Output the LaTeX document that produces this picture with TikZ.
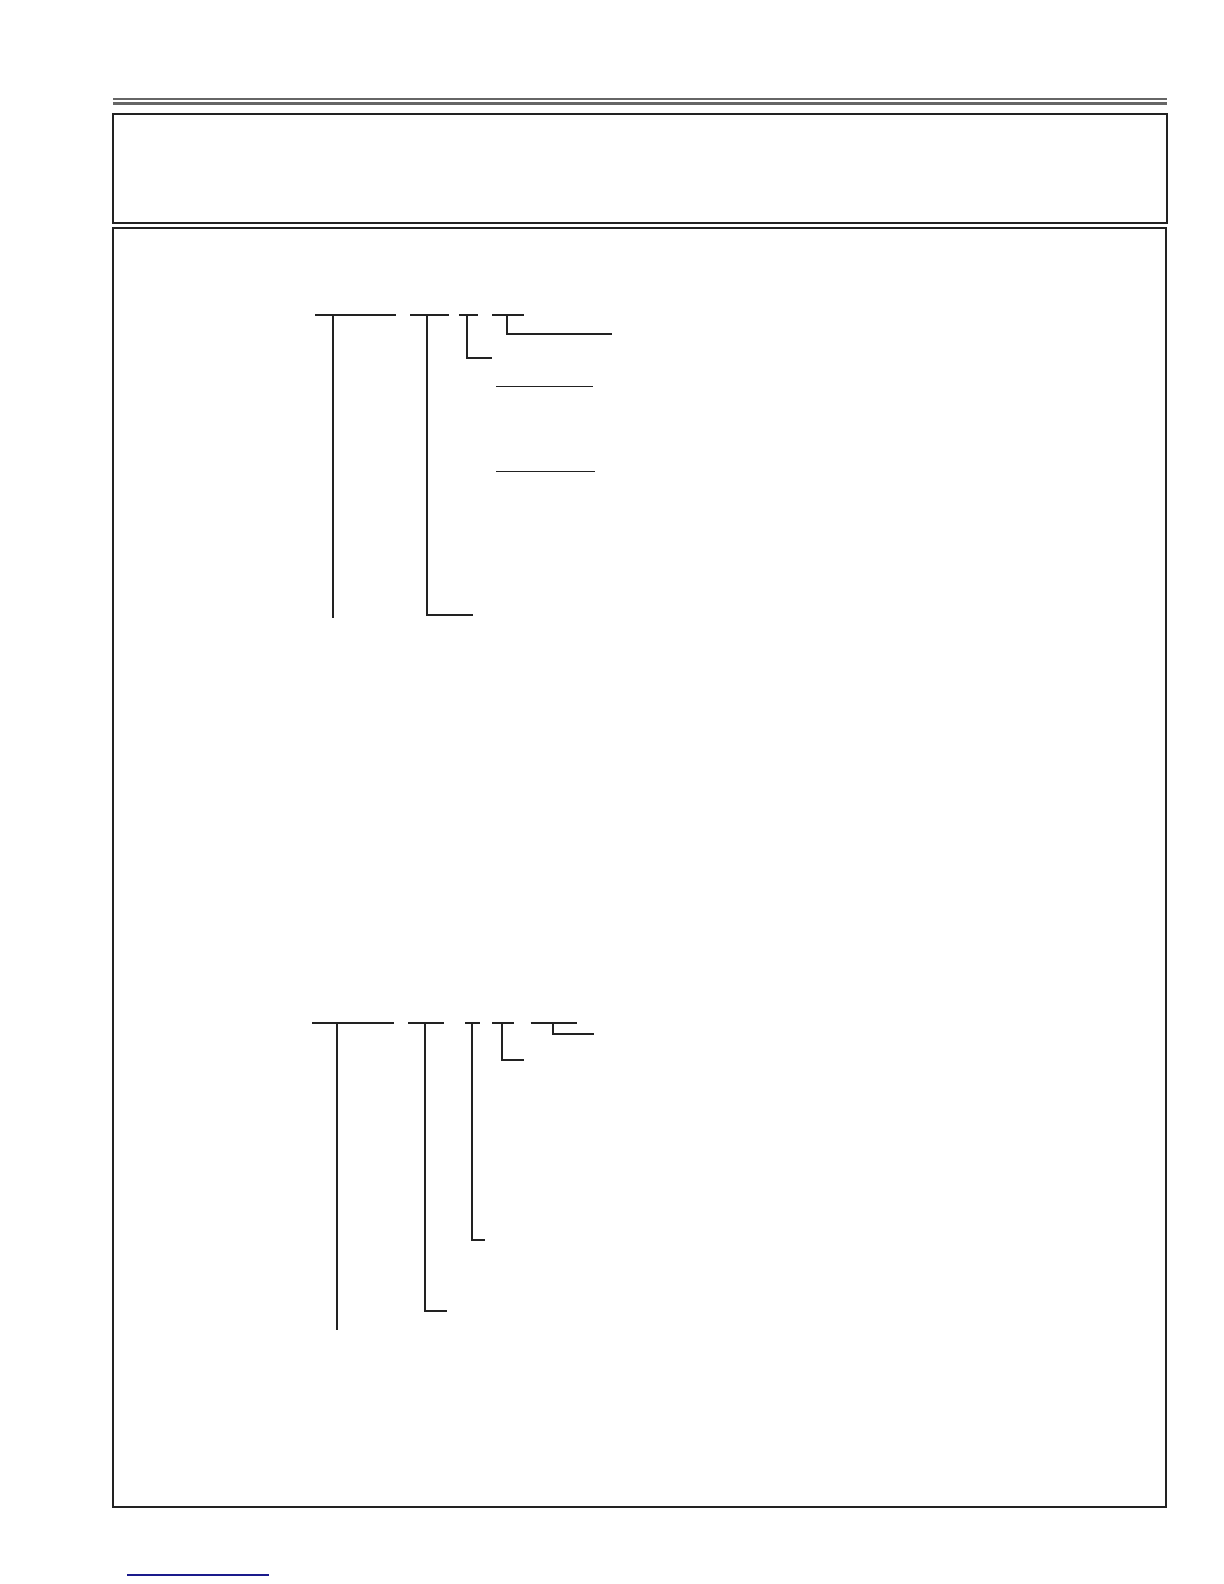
\documentclass[tikz,border=0pt]{standalone}
\usepackage{tikz}
\definecolor{RuleGray}{HTML}{666666}
\definecolor{InkDark}{HTML}{222222}
\definecolor{LinkBlue}{HTML}{1A1A8C}
\tikzset{
    frame/.style = {draw=InkDark, line width=1pt},
    bracket/.style = {draw=InkDark, line width=1pt},
    blank/.style = {draw=InkDark, line width=0.65pt}
}
\begin{document}
\begin{tikzpicture}[x=0.5pt,y=-0.5pt]
            \useasboundingbox[fill=white] (0,0) rectangle (1224,1584);
            % page rules and frames
            \draw[RuleGray,line width=0.6pt] (113,99) -- (1167,99);
            \draw[RuleGray,line width=1.6pt] (113,103.3) -- (1167,103.3);
            \draw[frame] (113,114) rectangle (1167,223);
            \draw[frame] (113,228) rectangle (1166,1507);
            % first tree
            \draw[bracket] (315,315.3) -- (396,315.3);
            \draw[bracket] (332.7,315.3) -- (332.7,618);
            \draw[bracket] (410,315.3) -- (449,315.3);
            \draw[bracket] (426.7,315.3) -- (426.7,615) -- (472.7,615);
            \draw[bracket] (459.3,315.3) -- (477.7,315.3);
            \draw[bracket] (466.7,315.3) -- (466.7,358) -- (491.7,358);
            \draw[bracket] (492.3,315.3) -- (524,315.3);
            \draw[bracket] (506.7,315.3) -- (506.7,333.7) -- (611.7,333.7);
            \draw[blank] (496,386.3) -- (592.7,386.3);
            \draw[blank] (496,471.3) -- (595,471.3);
            % second tree
            \draw[bracket] (312,1022.7) -- (393.7,1022.7);
            \draw[bracket] (336.7,1022.7) -- (336.7,1330);
            \draw[bracket] (408.3,1022.7) -- (443.7,1022.7);
            \draw[bracket] (425,1022.7) -- (425,1310.7) -- (446.7,1310.7);
            \draw[bracket] (465,1022.7) -- (480,1022.7);
            \draw[bracket] (472,1022.7) -- (472,1240) -- (485,1240);
            \draw[bracket] (492,1022.7) -- (514,1022.7);
            \draw[bracket] (502,1022.7) -- (502,1060) -- (524,1060);
            \draw[bracket] (530.7,1022.7) -- (576.7,1022.7);
            \draw[bracket] (552.7,1022.7) -- (552.7,1034.3) -- (594,1034.3);
            % footer link
            \draw[LinkBlue,line width=0.6pt] (127,1575) -- (269,1575);
\end{tikzpicture}
\end{document}
